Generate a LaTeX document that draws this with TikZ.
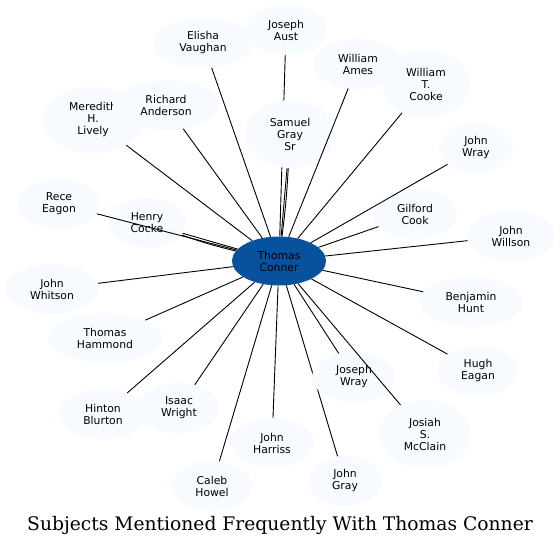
\documentclass[tikz,border=0pt]{standalone}
\usepackage{fontspec}
\usetikzlibrary{shapes.geometric}

\newfontfamily\labelfont{DejaVu Sans}
\newfontfamily\titlefont{DejaVu Serif}

\definecolor{hubblue}{HTML}{08519C}
\definecolor{paleblue}{HTML}{F7FBFF}

\tikzset{
    person/.style={ellipse, fill=paleblue, inner sep=0pt, align=center,
        font=\labelfont\fontsize{10.8bp}{12bp}\selectfont},
    hub/.style={person, fill=hubblue},
    size/.style 2 args={minimum width=#1bp, minimum height=#2bp},
    link/.style={black, line width=0.9bp}
}

\begin{document}
\begin{tikzpicture}[x=1bp, y=-1bp]
    % Frame of the picture (pixel units, y downwards)
    \useasboundingbox (0,0) rectangle (560,547);

    % Centre of the star
    \node[hub, size={94}{49}] (conner) at (279,261) {Thomas\\Conner};

    % These two edges run under other ellipses
    \node[person, size={82}{50}] (aust) at (286,30) {Joseph\\Aust};
    \node[person, size={74}{50}] (jgray) at (345,481) {John\\Gray};
    \draw[link] (conner) -- (aust);
    \draw[link] (conner) -- (jgray);

    % Upper half
    \node[person, size={100}{50}] (vaughan) at (203,43) {Elisha\\Vaughan};
    \node[person, size={100}{67}] (lively) at (93,120) {Meredith\\H.\\Lively};
    \node[person, size={106}{50}] (anderson) at (166,105) {Richard\\Anderson};
    \node[person, size={90}{68}] (samuel) at (290,134) {Samuel\\Gray\\Sr};
    \node[person, size={90}{50}] (ames) at (358,64) {William\\Ames};
    \node[person, size={88}{68}] (cooke) at (426,84) {William\\T.\\Cooke};
    \node[person, size={74}{50}] (jwray) at (476,148) {John\\Wray};
    \node[person, size={84}{50}] (gilford) at (415,214) {Gilford\\Cook};
    \node[person, size={88}{50}] (willson) at (511,236) {John\\Willson};
    \node[person, size={82}{50}] (eagon) at (59,204) {Rece\\Eagon};
    \node[person, size={78}{50}] (cocke) at (147,223) {Henry\\Cocke};

    % Lower half
    \node[person, size={94}{50}] (whitson) at (52,289) {John\\Whitson};
    \node[person, size={114}{50}] (hammond) at (105,338) {Thomas\\Hammond};
    \node[person, size={88}{50}] (blurton) at (103,414) {Hinton\\Blurton};
    \node[person, size={82}{50}] (wright) at (179,408) {Isaac\\Wright};
    \node[person, size={80}{50}] (howel) at (212,486) {Caleb\\Howel};
    \node[person, size={84}{50}] (harriss) at (272,443) {John\\Harriss};
    \node[person, size={84}{50}] (josephw) at (354,377) {Joseph\\Wray};
    \node[person, size={92}{68}] (mcclain) at (425,434) {Josiah\\S.\\McClain};
    \node[person, size={82}{50}] (eagan) at (478,371) {Hugh\\Eagan};
    \node[person, size={104}{50}] (hunt) at (471,302) {Benjamin\\Hunt};

    % Edges from the centre
    \draw[link] (conner) -- (vaughan);
    \draw[link] (conner) -- (lively);
    \draw[link] (conner) -- (anderson);
    \draw[link] (conner) -- (samuel);
    \draw[link] (conner) to[bend right=2] (samuel);
    \draw[link] (conner) -- (ames);
    \draw[link] (conner) -- (cooke);
    \draw[link] (conner) -- (jwray);
    \draw[link] (conner) -- (gilford);
    \draw[link] (conner) -- (willson);
    \draw[link] (conner) -- (eagon);
    \draw[link] (conner) -- (cocke);
    \draw[link] (conner) to[bend left=3] (cocke);
    \draw[link] (conner) -- (whitson);
    \draw[link] (conner) -- (hammond);
    \draw[link] (conner) -- (blurton);
    \draw[link] (conner) -- (wright);
    \draw[link] (conner) -- (howel);
    \draw[link] (conner) -- (harriss);
    \draw[link] (conner) -- (josephw);
    \draw[link] (conner) -- (mcclain);
    \draw[link] (conner) -- (eagan);
    \draw[link] (conner) -- (hunt);

    % Title
    \node[font=\titlefont\fontsize{18.7bp}{22bp}\selectfont] (title) at (280,525)
        {Subjects Mentioned Frequently With Thomas Conner};
\end{tikzpicture}
\end{document}
